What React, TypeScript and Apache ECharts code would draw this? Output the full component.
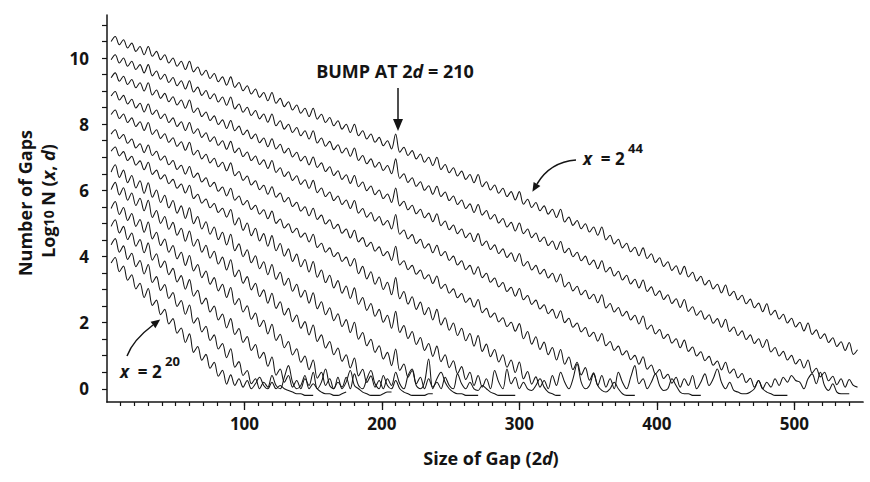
import { useEffect, useRef } from "react";
import * as echarts from "echarts";

// Gap sizes are sampled every GAP_STEP units (2d = 3, 6, 9, ...), peaks at multiples of 6.
const GAP_STEP = 3;

const x44 = [
  10.5, 10.65, 10.4, 10.55, 10.3, 10.45, 10.2, 10.35, 10.1, 10.35,
  10.05, 10.2, 9.95, 10.1, 9.85, 10, 9.75, 9.9, 9.65, 9.9,
  9.58, 9.73, 9.48, 9.63, 9.38, 9.53, 9.28, 9.43, 9.18, 9.43,
  9.11, 9.26, 9.01, 9.16, 8.91, 9.06, 8.81, 8.96, 8.71, 8.96,
  8.63, 8.78, 8.53, 8.68, 8.43, 8.58, 8.33, 8.48, 8.23, 8.48,
  8.15, 8.3, 8.05, 8.2, 7.95, 8.1, 7.85, 8, 7.75, 8,
  7.65, 7.8, 7.55, 7.7, 7.45, 7.6, 7.35, 7.5, 7.25, 7.7,
  7.15, 7.3, 7.05, 7.2, 6.95, 7.1, 6.85, 7, 6.75, 7,
  6.63, 6.78, 6.53, 6.68, 6.43, 6.58, 6.33, 6.48, 6.23, 6.48,
  6.11, 6.26, 6.01, 6.16, 5.91, 6.06, 5.81, 5.96, 5.71, 5.96,
  5.58, 5.73, 5.48, 5.63, 5.38, 5.53, 5.28, 5.43, 5.18, 5.43,
  5.04, 5.19, 4.94, 5.09, 4.84, 4.99, 4.74, 4.89, 4.64, 4.89,
  4.5, 4.64, 4.38, 4.52, 4.26, 4.4, 4.14, 4.28, 4.02, 4.26,
  3.94, 4.08, 3.82, 3.96, 3.7, 3.84, 3.58, 3.72, 3.46, 3.7,
  3.38, 3.52, 3.26, 3.4, 3.14, 3.28, 3.02, 3.16, 2.9, 3.14,
  2.81, 2.95, 2.69, 2.83, 2.57, 2.71, 2.45, 2.59, 2.33, 2.57,
  2.23, 2.37, 2.11, 2.25, 1.99, 2.13, 1.87, 2.01, 1.75, 1.99,
  1.64, 1.78, 1.52, 1.66, 1.4, 1.54, 1.28, 1.42, 1.16, 1.4,
  1.04, 1.18,
];

const x42 = [
  9.95, 10.1, 9.85, 10, 9.75, 9.9, 9.65, 9.8, 9.55, 9.8,
  9.46, 9.61, 9.36, 9.51, 9.26, 9.41, 9.16, 9.31, 9.06, 9.31,
  8.97, 9.12, 8.87, 9.02, 8.77, 8.92, 8.67, 8.82, 8.57, 8.82,
  8.46, 8.61, 8.36, 8.51, 8.26, 8.41, 8.16, 8.31, 8.06, 8.31,
  7.95, 8.1, 7.85, 8, 7.75, 7.9, 7.65, 7.8, 7.55, 7.8,
  7.43, 7.58, 7.33, 7.48, 7.23, 7.38, 7.13, 7.28, 7.03, 7.28,
  6.9, 7.05, 6.8, 6.95, 6.7, 6.85, 6.6, 6.75, 6.5, 6.95,
  6.36, 6.5, 6.24, 6.38, 6.12, 6.26, 6, 6.14, 5.88, 6.12,
  5.81, 5.95, 5.69, 5.83, 5.57, 5.71, 5.45, 5.59, 5.33, 5.57,
  5.25, 5.39, 5.13, 5.27, 5.01, 5.15, 4.89, 5.03, 4.77, 5.01,
  4.69, 4.83, 4.57, 4.71, 4.45, 4.59, 4.33, 4.47, 4.21, 4.45,
  4.11, 4.25, 3.99, 4.13, 3.87, 4.01, 3.75, 3.89, 3.63, 3.87,
  3.53, 3.67, 3.41, 3.55, 3.29, 3.43, 3.17, 3.31, 3.05, 3.29,
  2.94, 3.08, 2.82, 2.96, 2.7, 2.84, 2.58, 2.72, 2.46, 2.7,
  2.34, 2.48, 2.22, 2.36, 2.1, 2.24, 1.98, 2.12, 1.86, 2.1,
  1.73, 1.87, 1.61, 1.75, 1.49, 1.63, 1.37, 1.51, 1.25, 1.49,
  1.11, 1.25, 0.99, 1.13, 0.87, 1.01, 0.75, 0.89, 0.63, 0.87,
  0.48, 0.62, 0.36, 0.5, 0.24, 0.38, 0.12, 0.3, 0.05, 0.28,
  0.1, 0.05,
];

const x40 = [
  9.4, 9.55, 9.3, 9.45, 9.2, 9.35, 9.1, 9.25, 9, 9.25,
  8.88, 9.03, 8.78, 8.93, 8.68, 8.83, 8.58, 8.73, 8.48, 8.73,
  8.35, 8.49, 8.23, 8.37, 8.11, 8.25, 7.99, 8.13, 7.87, 8.11,
  7.8, 7.94, 7.68, 7.82, 7.56, 7.7, 7.44, 7.58, 7.32, 7.56,
  7.25, 7.39, 7.13, 7.27, 7.01, 7.15, 6.89, 7.03, 6.77, 7.01,
  6.69, 6.83, 6.57, 6.71, 6.45, 6.59, 6.33, 6.47, 6.21, 6.45,
  6.11, 6.25, 5.99, 6.13, 5.87, 6.01, 5.75, 5.89, 5.63, 6.07,
  5.53, 5.67, 5.41, 5.55, 5.29, 5.43, 5.17, 5.31, 5.05, 5.29,
  4.93, 5.07, 4.81, 4.95, 4.69, 4.83, 4.57, 4.71, 4.45, 4.69,
  4.33, 4.47, 4.21, 4.35, 4.09, 4.23, 3.97, 4.11, 3.85, 4.09,
  3.71, 3.85, 3.59, 3.73, 3.47, 3.61, 3.35, 3.49, 3.23, 3.47,
  3.08, 3.22, 2.96, 3.1, 2.84, 2.98, 2.72, 2.86, 2.6, 2.84,
  2.44, 2.58, 2.32, 2.46, 2.2, 2.34, 2.08, 2.22, 1.96, 2.2,
  1.8, 1.93, 1.66, 1.79, 1.52, 1.65, 1.38, 1.51, 1.24, 1.47,
  1.13, 1.26, 0.99, 1.12, 0.85, 0.98, 0.71, 0.84, 0.57, 0.8,
  0.47, 0.6, 0.33, 0.46, 0.19, 0.32, 0.05, 0.25, 0, 0.2,
  0.05, 0.3, 0.1, 0.35, 0.2, 0.4, 0.25, 0.2, 0, 0.3,
  0.45, 0.15, 0.5, 0.1, -0.05, 0.15, -0.1, -0.15, -0.15, -0.15,
];

const x38 = [
  8.85, 8.99, 8.73, 8.87, 8.61, 8.75, 8.49, 8.63, 8.37, 8.61,
  8.29, 8.43, 8.17, 8.31, 8.05, 8.19, 7.93, 8.07, 7.81, 8.05,
  7.72, 7.86, 7.6, 7.74, 7.48, 7.62, 7.36, 7.5, 7.24, 7.48,
  7.14, 7.28, 7.02, 7.16, 6.9, 7.04, 6.78, 6.92, 6.66, 6.9,
  6.54, 6.68, 6.42, 6.56, 6.3, 6.44, 6.18, 6.32, 6.06, 6.3,
  5.93, 6.07, 5.81, 5.95, 5.69, 5.83, 5.57, 5.71, 5.45, 5.69,
  5.31, 5.45, 5.19, 5.33, 5.07, 5.21, 4.95, 5.09, 4.83, 5.27,
  4.67, 4.8, 4.53, 4.66, 4.39, 4.52, 4.25, 4.38, 4.11, 4.34,
  4.02, 4.15, 3.88, 4.01, 3.74, 3.87, 3.6, 3.73, 3.46, 3.69,
  3.36, 3.49, 3.22, 3.35, 3.08, 3.21, 2.94, 3.07, 2.8, 3.03,
  2.69, 2.82, 2.55, 2.68, 2.41, 2.54, 2.27, 2.4, 2.13, 2.36,
  2, 2.13, 1.86, 1.99, 1.72, 1.85, 1.58, 1.71, 1.44, 1.67,
  1.3, 1.43, 1.16, 1.29, 1.02, 1.15, 0.88, 1.01, 0.74, 0.97,
  0.59, 0.72, 0.45, 0.58, 0.31, 0.44, 0.17, 0.35, 0.05, 0.3,
  0.1, 0.4, 0, 0.2, 0.45, 0.1, 0.3, 0.6, 0.2, 0,
  0.2, -0.05, -0.1, -0.15, -0.15, -0.1, 0, 0.25, 0, -0.1,
  -0.15, -0.2, -0.2, -0.2, -0.2,
];

const x36 = [
  8.29, 8.43, 8.17, 8.31, 8.05, 8.19, 7.93, 8.07, 7.81, 8.05,
  7.69, 7.83, 7.57, 7.71, 7.45, 7.59, 7.33, 7.47, 7.21, 7.45,
  7.07, 7.21, 6.95, 7.09, 6.83, 6.97, 6.71, 6.85, 6.59, 6.83,
  6.44, 6.57, 6.3, 6.43, 6.16, 6.29, 6.02, 6.15, 5.88, 6.11,
  5.79, 5.92, 5.65, 5.78, 5.51, 5.64, 5.37, 5.5, 5.23, 5.46,
  5.12, 5.25, 4.98, 5.11, 4.84, 4.97, 4.7, 4.83, 4.56, 4.79,
  4.44, 4.57, 4.3, 4.43, 4.16, 4.29, 4.02, 4.15, 3.88, 4.31,
  3.74, 3.87, 3.6, 3.73, 3.46, 3.59, 3.32, 3.45, 3.18, 3.41,
  3.03, 3.16, 2.89, 3.02, 2.75, 2.88, 2.61, 2.74, 2.47, 2.7,
  2.3, 2.43, 2.16, 2.29, 2.02, 2.15, 1.88, 2.01, 1.74, 1.97,
  1.51, 1.73, 1.35, 1.57, 1.19, 1.41, 1.03, 1.25, 0.87, 1.19,
  0.74, 0.96, 0.58, 0.8, 0.42, 0.64, 0.26, 0.48, 0.1, 0.4,
  0.05, 0.3, 0, 0.5, 0.2, 0, 0.35, 0.7, 0.15, 0.3,
  0, 0.2, 0.45, 0.1, -0.05, 0, 0.3, 0.1, -0.1, -0.15,
  -0.15, -0.2, -0.2, -0.2,
];

const x34 = [
  7.7, 7.83, 7.56, 7.69, 7.42, 7.55, 7.28, 7.41, 7.14, 7.37,
  7.05, 7.18, 6.91, 7.04, 6.77, 6.9, 6.63, 6.76, 6.49, 6.72,
  6.39, 6.52, 6.25, 6.38, 6.11, 6.24, 5.97, 6.1, 5.83, 6.06,
  5.7, 5.83, 5.56, 5.69, 5.42, 5.55, 5.28, 5.41, 5.14, 5.37,
  5, 5.13, 4.86, 4.99, 4.72, 4.85, 4.58, 4.71, 4.44, 4.67,
  4.27, 4.4, 4.13, 4.26, 3.99, 4.12, 3.85, 3.98, 3.71, 3.94,
  3.48, 3.7, 3.32, 3.54, 3.16, 3.38, 3, 3.22, 2.84, 3.36,
  2.72, 2.94, 2.56, 2.78, 2.4, 2.62, 2.24, 2.46, 2.08, 2.4,
  1.93, 2.15, 1.77, 1.99, 1.61, 1.83, 1.45, 1.67, 1.29, 1.61,
  1.13, 1.35, 0.97, 1.19, 0.81, 1.03, 0.65, 0.87, 0.49, 0.81,
  0.3, 0.52, 0.14, 0.36, 0.05, 0.25, 0, 0.4, 0.1, 0.5,
  0.2, 0, 0.3, 0.75, 0.2, 0, 0.1, 0.45, 0.1, -0.05,
  -0.1, 0, 0.2, 0, -0.15, -0.2, -0.2, -0.2,
];

const x32 = [
  7.18, 7.31, 7.04, 7.17, 6.9, 7.03, 6.76, 6.89, 6.62, 6.85,
  6.48, 6.61, 6.34, 6.47, 6.2, 6.33, 6.06, 6.19, 5.92, 6.15,
  5.75, 5.88, 5.61, 5.74, 5.47, 5.6, 5.33, 5.46, 5.19, 5.42,
  4.95, 5.17, 4.79, 5.01, 4.63, 4.85, 4.47, 4.69, 4.31, 4.63,
  4.17, 4.39, 4.01, 4.23, 3.85, 4.07, 3.69, 3.91, 3.53, 3.85,
  3.37, 3.59, 3.21, 3.43, 3.05, 3.27, 2.89, 3.11, 2.73, 3.05,
  2.55, 2.76, 2.37, 2.58, 2.19, 2.4, 2.01, 2.22, 1.83, 2.34,
  1.7, 1.91, 1.52, 1.73, 1.34, 1.55, 1.16, 1.37, 0.98, 1.29,
  0.82, 1.03, 0.64, 0.85, 0.46, 0.67, 0.28, 0.5, 0.1, 0.4,
  0.05, 0.3, 0, 0.55, 0.2, 0, 0.6, 0.15, 0.35, 0,
  0.2, 0, -0.05, 0.1, 0.3, 0.05, -0.1, -0.15, -0.2, -0.2,
];

const x30 = [
  6.55, 6.77, 6.39, 6.61, 6.23, 6.45, 6.07, 6.29, 5.91, 6.23,
  5.79, 6.01, 5.63, 5.85, 5.47, 5.69, 5.31, 5.53, 5.15, 5.47,
  4.99, 5.21, 4.83, 5.05, 4.67, 4.89, 4.51, 4.73, 4.35, 4.67,
  4.17, 4.38, 3.99, 4.2, 3.81, 4.02, 3.63, 3.84, 3.45, 3.76,
  3.31, 3.52, 3.13, 3.34, 2.95, 3.16, 2.77, 2.98, 2.59, 2.9,
  2.42, 2.63, 2.24, 2.45, 2.06, 2.27, 1.88, 2.09, 1.7, 2.01,
  1.5, 1.7, 1.3, 1.5, 1.1, 1.3, 0.9, 1.1, 0.7, 1.2,
  0.55, 0.75, 0.35, 0.55, 0.15, 0.35, 0, 0.3, 0.05, 0.2,
  0, 0.35, 0.1, 0, 0.45, 0.15, 0, 0.2, 0, -0.05,
  0.1, 0, -0.1, -0.15, -0.2, -0.2, -0.2, -0.2, -0.2,
];

const x28 = [
  6.02, 6.24, 5.86, 6.08, 5.7, 5.92, 5.54, 5.76, 5.38, 5.7,
  5.18, 5.39, 5, 5.21, 4.82, 5.03, 4.64, 4.85, 4.46, 4.77,
  4.31, 4.52, 4.13, 4.34, 3.95, 4.16, 3.77, 3.98, 3.59, 3.9,
  3.39, 3.59, 3.19, 3.39, 2.99, 3.19, 2.79, 2.99, 2.59, 2.89,
  2.43, 2.63, 2.23, 2.43, 2.03, 2.23, 1.83, 2.03, 1.63, 1.93,
  1.43, 1.63, 1.23, 1.43, 1.03, 1.23, 0.83, 1.03, 0.63, 0.93,
  0.39, 0.59, 0.19, 0.39, 0.05, 0.25, 0, 0.3, 0.1, 0.5,
  0.15, 0, 0.4, 0.6, 0.1, 0, 0.2, 0.9, 0, 0.3,
  0.5, 0.2, 0, -0.1, -0.15, -0.15, -0.2, -0.2, -0.2, -0.2,
];

const x26 = [
  5.45, 5.66, 5.27, 5.48, 5.09, 5.3, 4.91, 5.12, 4.73, 5.04,
  4.53, 4.73, 4.33, 4.53, 4.13, 4.33, 3.93, 4.13, 3.73, 4.03,
  3.56, 3.76, 3.36, 3.56, 3.16, 3.36, 2.96, 3.16, 2.76, 3.06,
  2.54, 2.73, 2.32, 2.51, 2.1, 2.29, 1.88, 2.07, 1.66, 1.95,
  1.46, 1.65, 1.24, 1.43, 1.02, 1.21, 0.8, 0.99, 0.58, 0.87,
  0.32, 0.5, 0.1, 0.3, 0, 0.2, 0.05, 0.35, 0, 0.45,
  0.1, 0, 0.3, 0.55, 0.15, 0, 0.4, 0.1, 0, 0.25,
  0, -0.1, -0.15, -0.2, -0.2, -0.2, -0.2, -0.15, -0.15,
];

const x24 = [
  4.91, 5.11, 4.71, 4.91, 4.51, 4.71, 4.31, 4.51, 4.11, 4.41,
  3.89, 4.08, 3.67, 3.86, 3.45, 3.64, 3.23, 3.42, 3.01, 3.3,
  2.8, 2.98, 2.56, 2.74, 2.32, 2.5, 2.08, 2.26, 1.84, 2.12,
  1.64, 1.82, 1.4, 1.58, 1.16, 1.34, 0.92, 1.1, 0.68, 0.96,
  0.41, 0.6, 0.2, 0.4, 0.05, 0.25, 0, 0.3, 0.1, 0.5,
  0, 0.2, 0.6, 0.1, 0, 0.35, 0, 0.2, 0.55, 0.1,
  0, -0.1, -0.15, -0.2, -0.2, -0.2, -0.15, -0.1, -0.1,
];

const x22 = [
  4.35, 4.54, 4.13, 4.32, 3.91, 4.1, 3.69, 3.88, 3.47, 3.76,
  3.21, 3.39, 2.97, 3.15, 2.73, 2.91, 2.49, 2.67, 2.25, 2.53,
  1.98, 2.15, 1.72, 1.89, 1.46, 1.63, 1.2, 1.37, 0.94, 1.21,
  0.65, 0.82, 0.4, 0.55, 0.15, 0.3, 0, 0.2, 0.05, 0.4,
  0.1, 0, 0.35, 0.7, 0.2, 0, 0.1, 0.4, 0, 0.15,
  0, -0.1, -0.15, -0.15, -0.2, -0.2, -0.15, -0.1,
];

const x20 = [
  3.8, 3.97, 3.54, 3.71, 3.28, 3.45, 3.02, 3.19, 2.76, 3.03,
  2.52, 2.68, 2.24, 2.4, 1.96, 2.12, 1.68, 1.84, 1.4, 1.66,
  1.1, 1.28, 0.86, 1.04, 0.62, 0.8, 0.38, 0.56, 0.14, 0.42,
  0.1, 0.3, 0.05, 0.25, 0, 0.15, 0.35, 0.1, 0, 0.2,
  0, 0.1, 0, -0.05, -0.1, -0.15, -0.15, -0.2, -0.2, -0.2,
];

const curves = [
  { name: "x = 2^20", values: x20 },
  { name: "x = 2^22", values: x22 },
  { name: "x = 2^24", values: x24 },
  { name: "x = 2^26", values: x26 },
  { name: "x = 2^28", values: x28 },
  { name: "x = 2^30", values: x30 },
  { name: "x = 2^32", values: x32 },
  { name: "x = 2^34", values: x34 },
  { name: "x = 2^36", values: x36 },
  { name: "x = 2^38", values: x38 },
  { name: "x = 2^40", values: x40 },
  { name: "x = 2^42", values: x42 },
  { name: "x = 2^44", values: x44 },
];

const yLabelValues = [0, 2, 4, 6, 8, 10];
const yTickValues = [0, 0.5, 1, 1.5, 2, 2.5, 3, 3.5, 4, 4.5, 5, 5.5, 6, 6.5, 7, 7.5, 8, 8.5, 9, 9.5, 10, 10.5, 11];
const xLabelValues = [100, 200, 300, 400, 500];
const xMajorTicks = [100, 200, 300, 400, 500];
const xMinorTicks = Array.from({ length: 54 }, (_, i) => (i + 1) * 10);

export default function App() {
  const ref = useRef<HTMLDivElement>(null);
  useEffect(() => {
    if (!ref.current) return;
    const chart = echarts.init(ref.current, null, { renderer: "svg" });
    const ink = "#141414";
    const font = "'Open Sans', 'Noto Sans', sans-serif";
    const bold = { fontFamily: font, fontWeight: "bold", fontSize: 18, fill: ink };
    const ital = { fontFamily: font, fontWeight: "bold", fontStyle: "italic", fontSize: 18, fill: ink };
    const boldS = { ...bold, fontSize: 17 };
    const italS = { ...ital, fontSize: 17 };

    chart.setOption({
      animation: false,
      backgroundColor: "#ffffff",
      grid: { left: 107, right: 7, top: 15, bottom: 80, containLabel: false },
      xAxis: [
        {
          type: "value",
          min: 0,
          max: 550,
          position: "bottom",
          axisLine: { show: true, onZero: false, lineStyle: { color: ink, width: 1.7 } },
          axisTick: { show: true, customValues: xMinorTicks, length: 4, lineStyle: { color: ink, width: 1.2 } },
          axisLabel: {
            customValues: xLabelValues,
            margin: 13,
            color: ink,
            fontFamily: font,
            fontWeight: "bold",
            fontSize: 17,
          },
          splitLine: { show: false },
        },
        {
          type: "value",
          min: 0,
          max: 550,
          position: "bottom",
          axisLine: { show: false, onZero: false },
          axisTick: { show: true, customValues: xMajorTicks, length: 8, lineStyle: { color: ink, width: 1.3 } },
          axisLabel: { show: false },
          splitLine: { show: false },
        },
      ],
      yAxis: {
        type: "value",
        min: -0.4,
        max: 11.3,
        axisLine: { show: true, onZero: false, lineStyle: { color: ink, width: 1.5 } },
        axisTick: { show: true, customValues: yTickValues, length: 5, lineStyle: { color: ink, width: 1.2 } },
        axisLabel: {
          customValues: yLabelValues,
          margin: 18,
          color: ink,
          fontFamily: font,
          fontWeight: "bold",
          fontSize: 17,
        },
        splitLine: { show: false },
      },
      series: curves.map((c) => ({
        name: c.name,
        type: "line",
        xAxisIndex: 0,
        yAxisIndex: 0,
        data: c.values.map((v, i) => [GAP_STEP * (i + 1), v]),
        showSymbol: false,
        symbol: "none",
        silent: true,
        smooth: 0.35,
        lineStyle: { color: ink, width: 1.05 },
      })),
      graphic: [
        {
          type: "text",
          x: 25,
          y: 203,
          rotation: Math.PI / 2,
          style: { text: "Number of Gaps", align: "center", verticalAlign: "middle", ...bold },
        },
        {
          type: "text",
          x: 48,
          y: 201,
          rotation: Math.PI / 2,
          style: {
            text: "{b|Log}{s|10}{b| N (}{i|x}{b|, }{i|d}{b|)}",
            align: "center",
            verticalAlign: "middle",
            rich: { b: bold, i: ital, s: { ...bold, fontSize: 14 } },
          },
        },
        {
          type: "text",
          x: 491,
          y: 458,
          style: {
            text: "{b|Size of Gap (2}{i|d}{b|)}",
            align: "center",
            verticalAlign: "middle",
            rich: { b: bold, i: ital },
          },
        },
        {
          type: "text",
          x: 395,
          y: 71,
          style: {
            text: "{b|BUMP AT 2}{i|d}{b| = 210}",
            align: "center",
            verticalAlign: "middle",
            rich: { b: bold, i: ital },
          },
        },
        {
          type: "line",
          shape: { x1: 398, y1: 88, x2: 398, y2: 122 },
          style: { stroke: ink, lineWidth: 1.5 },
        },
        {
          type: "polygon",
          shape: { points: [[393, 119], [403, 119], [398, 131]] },
          style: { fill: ink },
        },
        {
          type: "text",
          x: 583,
          y: 158,
          style: {
            text: "{i|x}{b|  = 2}",
            align: "left",
            verticalAlign: "middle",
            rich: { b: boldS, i: italS },
          },
        },
        {
          type: "text",
          x: 628,
          y: 148,
          style: { text: "44", align: "left", verticalAlign: "middle", ...bold, fontSize: 13 },
        },
        {
          type: "bezierCurve",
          shape: { x1: 576, y1: 160, x2: 537, y2: 184, cpx1: 550, cpy1: 162 },
          style: { stroke: ink, lineWidth: 1.5, fill: "none" },
        },
        {
          type: "polygon",
          shape: { points: [[532.4, 191.7], [540.4, 186.0], [533.6, 182.0]] },
          style: { fill: ink },
        },
        {
          type: "text",
          x: 120,
          y: 371,
          style: {
            text: "{i|x}{b|  = 2}",
            align: "left",
            verticalAlign: "middle",
            rich: { b: boldS, i: italS },
          },
        },
        {
          type: "text",
          x: 165,
          y: 361,
          style: { text: "20", align: "left", verticalAlign: "middle", ...bold, fontSize: 13 },
        },
        {
          type: "bezierCurve",
          shape: { x1: 127, y1: 356, x2: 153, y2: 325, cpx1: 133, cpy1: 340 },
          style: { stroke: ink, lineWidth: 1.5, fill: "none" },
        },
        {
          type: "polygon",
          shape: { points: [[160.2, 319.6], [155.4, 328.2], [150.6, 321.8]] },
          style: { fill: ink },
        },
      ],
    });
    return () => chart.dispose();
  }, []);
  return (
    <div
      ref={ref}
      style={{ position: "fixed", left: 0, top: 0, width: 870, height: 482, background: "#ffffff" }}
    />
  );
}
